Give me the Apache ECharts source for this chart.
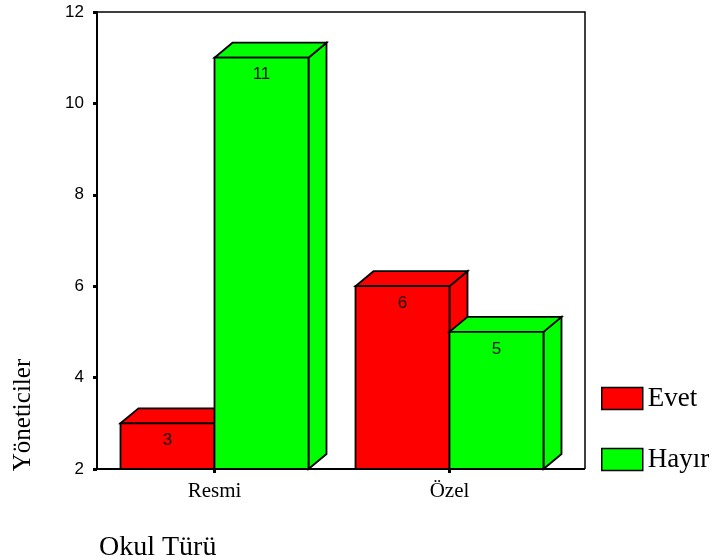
<!DOCTYPE html>
<html>
<head>
<meta charset="utf-8">
<script src="https://cdn.jsdelivr.net/npm/echarts@6/dist/echarts.min.js"></script>
<style>
  html, body { margin: 0; padding: 0; background: #fff; }
  #chart { width: 719px; height: 560px; }
</style>
</head>
<body>
<div id="chart"></div>
<script>
// Okul türüne göre yönetici yanıtları
const categories = ['Resmi', 'Özel'];
const evetValues = [3, 6];
const hayirValues = [11, 5];
const seriesNames = ['Evet', 'Hayır'];
const yMin = 2, yMax = 12, yStep = 2;

const SERIF = '"Liberation Serif", "Times New Roman", serif';
const SANS = '"Liberation Sans", Arial, sans-serif';

// Grid geometry
const gridLeft = 97, gridTop = 12, gridWidth = 470, gridHeight = 457;
const frameRight = 585;

// 3D box depth
const DEPTH_X = 18, DEPTH_Y = -15;

function makeBoxRenderer(side) {
  return function (params, api) {
    const cat = api.value(0);
    const val = api.value(1);
    const base = api.coord([cat, yMin]);
    const top = api.coord([cat, val]);
    const band = api.size([1, 0])[0];
    const w = band * 0.4;
    const x0 = side === 0 ? base[0] - w : base[0];
    const x1 = x0 + w;
    const yT = top[1], yB = base[1];
    const color = api.visual('color');
    const stroke = { stroke: '#000', lineWidth: 1.8, lineJoin: 'miter' };
    return {
      type: 'group',
      children: [
        {
          type: 'polygon',
          shape: { points: [[x1, yT], [x1 + DEPTH_X, yT + DEPTH_Y], [x1 + DEPTH_X, yB + DEPTH_Y], [x1, yB]] },
          style: Object.assign({ fill: color }, stroke)
        },
        {
          type: 'polygon',
          shape: { points: [[x0, yT], [x0 + DEPTH_X, yT + DEPTH_Y], [x1 + DEPTH_X, yT + DEPTH_Y], [x1, yT]] },
          style: Object.assign({ fill: color }, stroke)
        },
        {
          type: 'rect',
          shape: { x: x0, y: yT, width: w, height: yB - yT },
          style: Object.assign({ fill: color }, stroke)
        },
        {
          type: 'text',
          x: (x0 + x1) / 2,
          y: yT + 17,
          style: {
            text: String(val),
            fill: '#111',
            font: '17px ' + SANS,
            align: 'center',
            verticalAlign: 'middle'
          }
        }
      ]
    };
  };
}

const chart = echarts.init(document.getElementById('chart'), null, { renderer: 'canvas' });

chart.setOption({
  backgroundColor: '#fff',
  animation: false,
  color: ['#ff0000', '#00ff00'],
  grid: { left: gridLeft, top: gridTop, width: gridWidth, height: gridHeight, containLabel: false },
  legend: {
    orient: 'vertical',
    left: 601,
    top: 385,
    padding: 0,
    itemWidth: 41,
    itemHeight: 22,
    itemGap: 34,
    icon: 'rect',
    data: seriesNames,
    itemStyle: { borderColor: '#000', borderWidth: 1.5 },
    textStyle: { fontFamily: SERIF, fontSize: 27, color: '#000', padding: [0, 0, 0, 0] }
  },
  xAxis: {
    type: 'category',
    data: categories,
    axisLine: { show: true, lineStyle: { color: '#000', width: 2 } },
    axisTick: { show: true, alignWithLabel: true, length: 4, lineStyle: { color: '#000', width: 3 } },
    axisLabel: { color: '#000', fontFamily: SERIF, fontSize: 21, margin: 12 },
    splitLine: { show: false }
  },
  yAxis: {
    type: 'value',
    min: yMin,
    max: yMax,
    interval: yStep,
    axisLine: { show: true, lineStyle: { color: '#000', width: 2 } },
    axisTick: { show: true, length: 4, lineStyle: { color: '#000', width: 3 } },
    axisLabel: { color: '#000', fontFamily: SANS, fontSize: 17, margin: 13 },
    splitLine: { show: false }
  },
  graphic: [
    {
      type: 'polyline',
      shape: { points: [[gridLeft, gridTop], [frameRight, gridTop], [frameRight, gridTop + gridHeight]] },
      style: { stroke: '#000', lineWidth: 1.5, fill: null },
      z: 1
    },
    {
      type: 'line',
      shape: { x1: gridLeft + gridWidth, y1: gridTop + gridHeight, x2: frameRight, y2: gridTop + gridHeight },
      style: { stroke: '#000', lineWidth: 2 },
      z: 1
    },
    {
      type: 'text',
      x: 23,
      y: 415,
      rotation: Math.PI / 2,
      style: {
        text: 'Yöneticiler',
        font: '25px ' + SERIF,
        fill: '#000',
        align: 'center',
        verticalAlign: 'middle'
      }
    },
    {
      type: 'text',
      x: 99,
      y: 548,
      style: {
        text: 'Okul Türü',
        font: '28px ' + SERIF,
        fill: '#000',
        align: 'left',
        verticalAlign: 'middle'
      }
    }
  ],
  series: [
    {
      name: seriesNames[0],
      type: 'custom',
      clip: false,
      renderItem: makeBoxRenderer(0),
      encode: { x: 0, y: 1 },
      data: categories.map((c, i) => [i, evetValues[i]]),
      z: 3
    },
    {
      name: seriesNames[1],
      type: 'custom',
      clip: false,
      renderItem: makeBoxRenderer(1),
      encode: { x: 0, y: 1 },
      data: categories.map((c, i) => [i, hayirValues[i]]),
      z: 4
    }
  ]
});
</script>
</body>
</html>
